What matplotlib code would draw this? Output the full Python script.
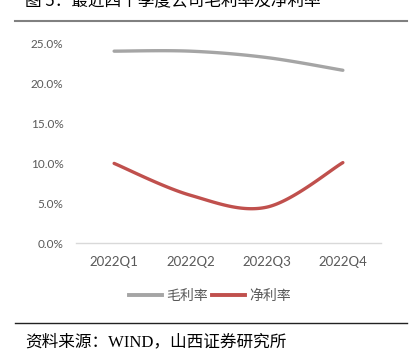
import numpy as np
import matplotlib
matplotlib.use("Agg")
import matplotlib.pyplot as plt
from matplotlib.lines import Line2D

categories = ["2022Q1", "2022Q2", "2022Q3", "2022Q4"]
gross_margin = [24.1, 24.1, 23.3, 21.7]
net_margin = [10.0, 6.0, 4.5, 10.1]
series_names = ["毛利率", "净利率"]
yticks = [0, 5, 10, 15, 20, 25]
title = "图 5：最近四个季度公司毛利率及净利率"
source = "资料来源：WIND，山西证券研究所"

CJK = ["Noto Sans CJK SC", "DejaVu Sans"]
W, H = 412, 355
fig = plt.figure(figsize=(W / 100, H / 100), dpi=100)


def smooth(xs, ys, n=40):
    pts = np.column_stack([xs, ys]).astype(float)
    ext = np.vstack([pts[0], pts, pts[-1]])
    out = []
    t = np.linspace(0, 1, n)[:, None]
    for i in range(len(pts) - 1):
        p0 = ext[i + 1]
        p3 = ext[i + 2]
        c1 = p0 + (ext[i + 2] - ext[i]) / 6.0
        c2 = p3 - (ext[i + 3] - ext[i + 1]) / 6.0
        seg = ((1 - t) ** 3) * p0 + 3 * ((1 - t) ** 2) * t * c1 + 3 * (1 - t) * t ** 2 * c2 + t ** 3 * p3
        out.append(seg if i == 0 else seg[1:])
    out = np.vstack(out)
    return out[:, 0], out[:, 1]


ax = fig.add_axes([76 / W, 1 - 243 / H, 305 / W, 199 / H])
x = np.arange(len(categories))
colors = ["#A5A5A5", "#C0504D"]
for vals, c in zip([gross_margin, net_margin], colors):
    sx, sy = smooth(x, vals)
    ax.plot(sx, sy, color=c, lw=2.4, solid_capstyle="round", zorder=3)

ax.set_xlim(-0.5, len(categories) - 0.5)
ax.set_ylim(0, 25)
ax.set_yticks(yticks)
ax.set_yticklabels([f"{v:.1f}%" for v in yticks], fontsize=8.5, color="#595959", family="Lato")
ax.set_xticks(x)
ax.set_xticklabels(categories, fontsize=9.5, color="#595959", family="Lato")
ax.tick_params(axis="both", length=0)
ax.tick_params(axis="y", pad=9)
ax.tick_params(axis="x", pad=9)
for s in ["top", "right", "left"]:
    ax.spines[s].set_visible(False)
ax.spines["bottom"].set_color("#D9D9D9")
ax.spines["bottom"].set_linewidth(1.0)

handles = [Line2D([], [], color=c, lw=2.8) for c in colors]
leg = fig.legend(handles, series_names, loc="center", bbox_to_anchor=(210 / W, 1 - 296 / H),
                 ncol=2, frameon=False, handlelength=2.4, handletextpad=0.3, columnspacing=0.3,
                 prop={"family": CJK, "size": 10})
for t in leg.get_texts():
    t.set_color("#595959")

fig.text(25 / W, 1 - 10 / H, title, ha="left", va="bottom", fontsize=12, family=CJK, color="black")
fig.add_artist(Line2D([15 / W, 407 / W], [1 - 21 / H, 1 - 21 / H], color="#808080", lw=1.5))
fig.add_artist(Line2D([15 / W, 407 / W], [1 - 323 / H, 1 - 323 / H], color="#222222", lw=1.0))
fig.text(25 / W, 1 - 342.5 / H, source, ha="left", va="center", fontsize=12,
         family=["Liberation Serif", "Noto Sans CJK SC"], color="black")

fig.savefig("out.png", dpi=100)
